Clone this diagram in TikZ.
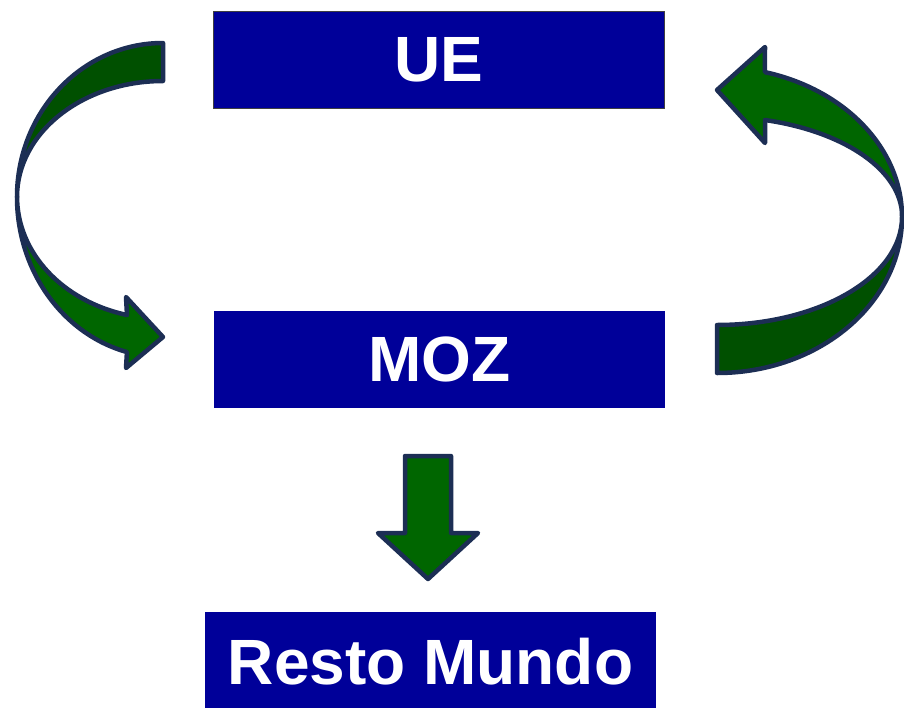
\documentclass[tikz,border=0pt]{standalone}
\usepackage{fontspec}
\setmainfont{Liberation Sans}
\definecolor{boxblue}{RGB}{0,0,153}
\definecolor{arrowfront}{RGB}{0,102,0}
\definecolor{arrowback}{RGB}{0,80,0}
\definecolor{arrowline}{RGB}{28,46,84}
\begin{document}
\begin{tikzpicture}[x=1pt, y=-1pt,
    box/.style={fill=boxblue, text=white, inner sep=0pt,
      minimum width=451pt, minimum height=97pt,
      font=\fontsize{64}{64}\selectfont\bfseries},
    front/.style={fill=arrowfront, draw=arrowline, line width=4.5pt, line join=round},
    back/.style={fill=arrowback, draw=arrowline, line width=4.5pt, line join=round}]
    \useasboundingbox (0, 0) rectangle (904, 707);
        \node[box, draw=black!75, line width=1pt] (ue) at (439, 59.5) {UE};
        \node[box] (moz) at (439.5, 359) {MOZ};
        \node[box, minimum height=100pt] (resto) at (430.5, 662) {Resto Mundo};
        \draw[back] (163, 43) arc[start angle=-90, end angle=-180, x radius=146, y radius=154]
            arc[start angle=180, end angle=270, x radius=146, y radius=116] -- cycle;
        \draw[front] (17, 197) arc[start angle=180, end angle=104.3, x radius=146, y radius=160]
            -- (126, 368) -- (163, 337) -- (126, 297) -- (127, 315)
            arc[start angle=104.3, end angle=180, x radius=146, y radius=122] -- cycle;
        \draw[back] (717, 373) arc[start angle=90, end angle=0, x radius=185, y radius=156]
            arc[start angle=0, end angle=90, x radius=185, y radius=108] -- cycle;
        \draw[front] (902, 217) arc[start angle=0, end angle=-75, x radius=185, y radius=150]
            -- (765, 47) -- (717, 90) -- (765, 143) -- (765, 120)
            arc[start angle=-75, end angle=0, x radius=185, y radius=100] -- cycle;
        \draw[front] (405, 456) -- (451, 456) -- (451, 533) -- (478, 533) -- (428, 579)
            -- (378, 533) -- (405, 533) -- cycle;
    \end{tikzpicture}
\end{document}
